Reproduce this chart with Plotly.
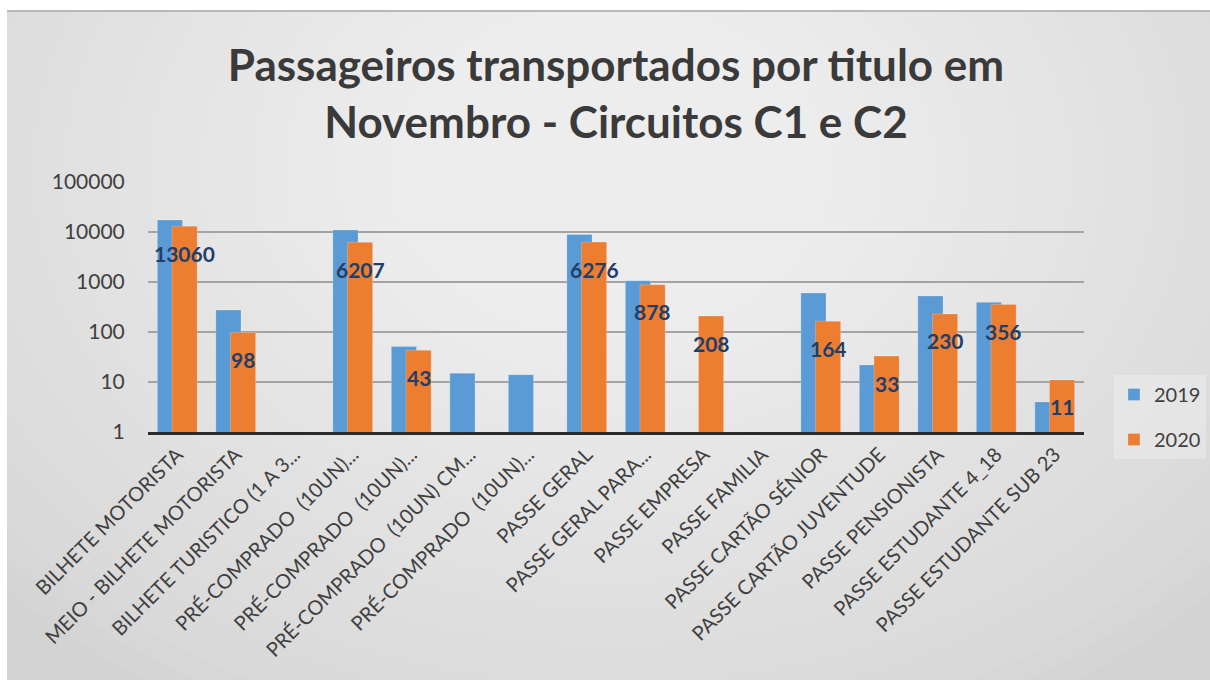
import math
import plotly.graph_objects as go

categories = [
    "BILHETE MOTORISTA",
    "MEIO - BILHETE MOTORISTA",
    "BILHETE TURISTICO (1 A 3...",
    "PRÉ-COMPRADO  (10UN)...",
    "PRÉ-COMPRADO  (10UN)...",
    "PRÉ-COMPRADO  (10UN) CM...",
    "PRÉ-COMPRADO  (10UN)...",
    "PASSE GERAL",
    "PASSE GERAL PARA...",
    "PASSE EMPRESA",
    "PASSE FAMILIA",
    "PASSE CARTÃO SÉNIOR",
    "PASSE CARTÃO JUVENTUDE",
    "PASSE PENSIONISTA",
    "PASSE ESTUDANTE 4_18",
    "PASSE ESTUDANTE SUB 23",
]
values_2019 = [17400, 275, None, 11000, 51, 15, 14, 8950, 1060, None, None, 600, 22, 525, 392, 4]
values_2020 = [13060, 98, None, 6207, 43, None, None, 6276, 878, 208, None, 164, 33, 230, 356, 11]
series_names = ["2019", "2020"]
y_tick_vals = [1, 10, 100, 1000, 10000, 100000]
y_tick_text = ["1", "10", "100", "1000", "10000", "100000"]

title_text = "Passageiros transportados por titulo em<br>Novembro - Circuitos C1 e C2"

BLUE = "#5B9BD5"
ORANGE = "#ED7D31"
TEXT = "#404040"
LABEL = "#1F3F6B"
FONT = "Lato, Open Sans, sans-serif"

x_pos = list(range(len(categories)))
BAR_W = 0.43
OFF_2019 = -0.34
OFF_2020 = -0.09

fig = go.Figure()
fig.add_trace(go.Bar(
    x=x_pos, y=values_2019, name=series_names[0],
    marker=dict(color=BLUE, line=dict(color="rgba(255,255,255,0.35)", width=0.6)),
    width=BAR_W, offset=OFF_2019, legendgroup="a",
))
fig.add_trace(go.Bar(
    x=x_pos, y=values_2020, name=series_names[1],
    marker=dict(color=ORANGE, line=dict(color="rgba(255,255,255,0.35)", width=0.6)),
    width=BAR_W, offset=OFF_2020, legendgroup="b",
))

annotations = []
for i, v in enumerate(values_2020):
    if v is None:
        continue
    annotations.append(dict(
        x=i + OFF_2020 + BAR_W / 2, y=math.log10(v), xref="x", yref="y",
        text=str(v), showarrow=False, yshift=-27,
        font=dict(family=FONT, size=21, color=LABEL, weight="bold"),
    ))

# background: box with soft radial gradient
L, R, T, B = 148, 1084, 182, 432
pw, ph = R - L, B - T
def px(xp):
    return (xp - L) / pw
def py(yp):
    return (B - yp) / ph

shapes = [dict(type="rect", xref="paper", yref="paper", layer="below",
               x0=px(7), x1=px(1210), y0=py(680), y1=py(10),
               fillcolor="#d3d3d3", line=dict(width=0))]
n = 30
cx, cy = 610, 170
for k in range(n):
    f = 1 - k / n
    rx, ry = 820 * f, 620 * f
    shapes.append(dict(type="circle", xref="paper", yref="paper", layer="below",
                       x0=px(cx - rx), x1=px(cx + rx), y0=py(cy + ry), y1=py(cy - ry),
                       fillcolor="rgba(255,255,255,0.05)", line=dict(width=0)))
# white outer frame to clip gradient
shapes += [
    dict(type="rect", xref="paper", yref="paper", layer="below",
         x0=px(-400), x1=px(7), y0=py(1200), y1=py(-500), fillcolor="white", line=dict(width=0)),
    dict(type="rect", xref="paper", yref="paper", layer="below",
         x0=px(-400), x1=px(1700), y0=py(10), y1=py(-500), fillcolor="white", line=dict(width=0)),
    dict(type="line", xref="paper", yref="paper", layer="below",
         x0=px(7), x1=px(1210), y0=py(11), y1=py(11), line=dict(color="#b8b8b8", width=2)),
]

fig.update_layout(
    width=1210, height=680,
    margin=dict(l=L, r=1210 - R, t=T, b=680 - B, autoexpand=False),
    paper_bgcolor="white", plot_bgcolor="rgba(0,0,0,0)",
    barmode="overlay",
    title=dict(text=title_text, x=0.5, xref="paper", xanchor="center",
               y=0.881, yref="container", yanchor="top",
               font=dict(family=FONT, size=44, color="#3a3a3a", weight="bold")),
    font=dict(family=FONT, color=TEXT),
    legend=dict(x=1.032, y=0.06, xanchor="left", yanchor="middle",
                font=dict(size=20, color=TEXT), tracegroupgap=16,
                bgcolor="rgba(255,255,255,0.25)", itemwidth=30),
    showlegend=True,
    annotations=annotations,
    shapes=shapes,
)
fig.update_xaxes(
    tickmode="array", tickvals=x_pos, ticktext=categories, tickangle=-45,
    range=[-0.5, len(categories) - 0.5],
    showline=True, linecolor="#2b2b2b", linewidth=3, showgrid=False,
    tickfont=dict(size=20, color=TEXT), ticks="",
)
fig.update_yaxes(
    type="log", range=[0, 5], tickmode="array", tickvals=y_tick_vals, ticktext=y_tick_text,
    showgrid=True, gridcolor="#a3a3a3", gridwidth=2, zeroline=False, showline=False,
    tickfont=dict(size=21, color=TEXT), ticks="outside", ticklen=18, tickcolor="rgba(0,0,0,0)",
)

fig.write_html("out.html", config={"displayModeBar": False},
               post_script="document.body.style.margin='0';document.body.style.overflow='hidden';")
